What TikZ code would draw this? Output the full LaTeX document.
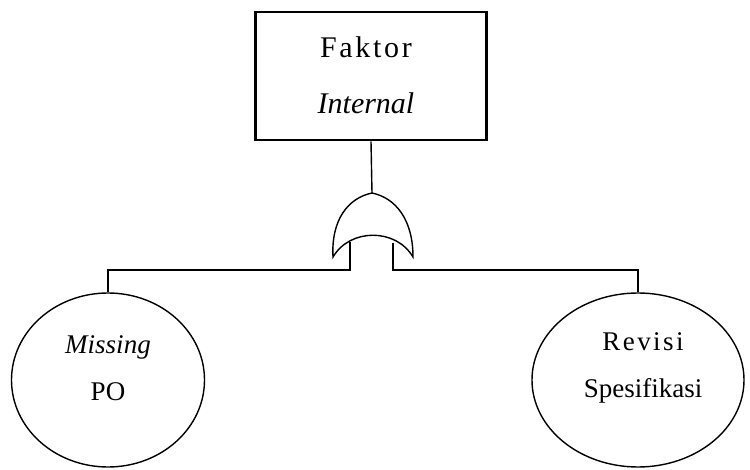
\documentclass[tikz,border=0pt]{standalone}
\usepackage{fontspec}
\setmainfont{Liberation Serif}
\usetikzlibrary{shapes.geometric}
\newcommand{\spaced}[1]{{\addfontfeature{LetterSpace=9}#1}}
\tikzset{
  thin line/.style={line width=1.4pt, black},
  eventbox/.style={draw, line width=2.8pt, minimum width=231pt, minimum height=128pt, inner sep=0pt},
  basicevent/.style={draw, ellipse, line width=1.4pt, minimum height=174pt, inner sep=0pt},
  boxtext/.style={align=center, font=\fontsize{30}{56}\selectfont},
  circtext/.style={align=center, font=\fontsize{27}{47}\selectfont},
}
\begin{document}
\begin{tikzpicture}[x=1pt, y=-1pt]
  \useasboundingbox (0,0) rectangle (750,470);

  % top event
  \node[eventbox] (top) at (371,76) {};
  \node[boxtext] (toptext) at (366,75) {\spaced{Faktor}\\\textit{Internal}};

  % OR gate
  \coordinate (gtop) at (372,193);
  \coordinate (gltip) at (333,257);
  \coordinate (grtip) at (413,257);
  \draw[thin line] (gltip) .. controls (331,220) and (348,198) .. (gtop)
                          .. controls (396,198) and (413,220) .. (grtip)
                          .. controls (396,228) and (350,228) .. (gltip) -- cycle;
  \coordinate (gin1) at (350,242);
  \coordinate (gin2) at (393,243);
  \coordinate (bus) at (372,270);

  % basic events
  \node[basicevent, minimum width=193pt] (miss) at (108,380) {};
  \node[circtext] (misstext) at (108,368) {\textit{Missing}\\PO};
  \node[basicevent, minimum width=212pt] (rev) at (638,380) {};
  \node[circtext] (revtext) at (643,368) {\spaced{Revisi}\\Spesifikasi};

  % connectors
  \draw[thin line] (top.south) -- (gtop);
  \draw[thin line] (gin1) -- (gin1 |- bus) -| (miss.north);
  \draw[thin line] (gin2) -- (gin2 |- bus) -| (rev.north);
\end{tikzpicture}
\end{document}
